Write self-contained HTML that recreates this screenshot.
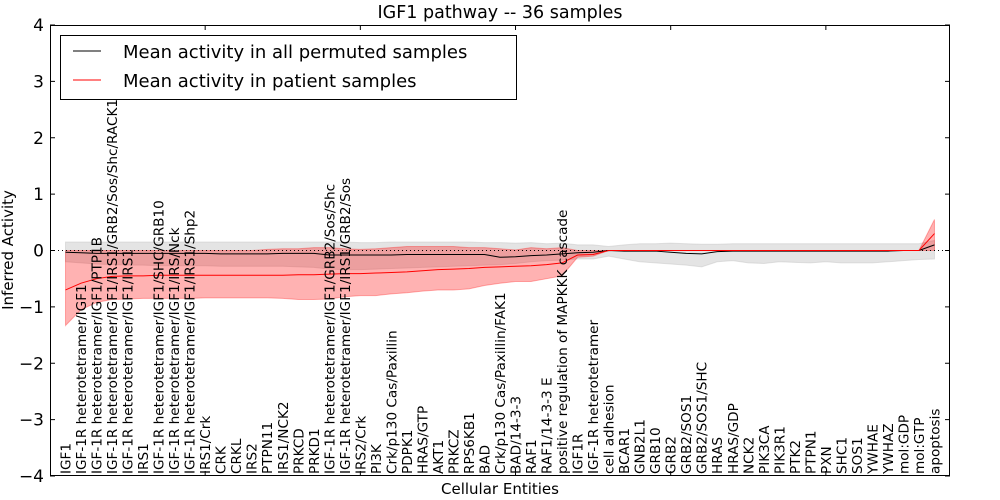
<!DOCTYPE html>
<html><head><meta charset="utf-8"><style>
html,body{margin:0;padding:0;background:#fff;}
svg{display:block;font-family:"DejaVu Sans","Liberation Sans",sans-serif;}
</style></head><body>
<svg id="chart" width="1000" height="500" viewBox="0 0 1000 500" xmlns="http://www.w3.org/2000/svg">
<text x="500" y="18" font-size="17.5" text-anchor="middle">IGF1 pathway -- 36 samples</text>
<text transform="translate(13,250) rotate(-90)" font-size="15" text-anchor="middle">Inferred Activity</text>
<text x="500" y="494" font-size="15" text-anchor="middle">Cellular Entities</text>
<g id="bands"></g><g id="lines"></g><g id="labels"></g><g id="axes"></g>
<g>
<rect x="60.5" y="35.5" width="456" height="64" fill="#fff" stroke="#000" stroke-width="1"/>
<line x1="73" y1="51" x2="101" y2="51" stroke="#000" stroke-width="1"/>
<text x="123" y="58" font-size="18">Mean activity in all permuted samples</text>
<line x1="73" y1="80" x2="101" y2="80" stroke="#f00" stroke-width="1"/>
<text x="123" y="87" font-size="18">Mean activity in patient samples</text>
</g>
</svg>
<script>
const categories = ["IGF1","IGF-1R heterotetramer/IGF1","IGF-1R heterotetramer/IGF1/PTP1B","IGF-1R heterotetramer/IGF1/IRS1/GRB2/Sos/Shc/RACK1","IGF-1R heterotetramer/IGF1/IRS1","IRS1","IGF-1R heterotetramer/IGF1/SHC/GRB10","IGF-1R heterotetramer/IGF1/IRS/Nck","IGF-1R heterotetramer/IGF1/IRS1/Shp2","IRS1/Crk","CRK","CRKL","IRS2","PTPN11","IRS1/NCK2","PRKCD","PRKD1","IGF-1R heterotetramer/IGF1/GRB2/Sos/Shc","IGF-1R heterotetramer/IGF1/IRS1/GRB2/Sos","IRS2/Crk","PI3K","Crk/p130 Cas/Paxillin","PDPK1","HRAS/GTP","AKT1","PRKCZ","RPS6KB1","BAD","Crk/p130 Cas/Paxillin/FAK1","BAD/14-3-3","RAF1","RAF1/14-3-3 E","positive regulation of MAPKKK cascade","IGF1R","IGF-1R heterotetramer","cell adhesion","BCAR1","GNB2L1","GRB10","GRB2","GRB2/SOS1","GRB2/SOS1/SHC","HRAS","HRAS/GDP","NCK2","PIK3CA","PIK3R1","PTK2","PTPN1","PXN","SHC1","SOS1","YWHAE","YWHAZ","mol:GDP","mol:GTP","apoptosis"];
const patientMean = [-0.70,-0.58,-0.50,-0.46,-0.45,-0.45,-0.44,-0.44,-0.44,-0.44,-0.44,-0.44,-0.44,-0.44,-0.44,-0.43,-0.43,-0.42,-0.41,-0.41,-0.40,-0.39,-0.38,-0.36,-0.34,-0.33,-0.32,-0.30,-0.29,-0.28,-0.27,-0.25,-0.22,-0.08,-0.07,0,0,0,0,0,0,0,0,0,0,0,0,0,0,0,0,0,0,0,0,0,0.30];
const patientLow = [-1.33,-1.05,-0.92,-0.87,-0.86,-0.85,-0.85,-0.85,-0.85,-0.84,-0.84,-0.84,-0.84,-0.84,-0.85,-0.87,-0.87,-0.86,-0.82,-0.80,-0.80,-0.77,-0.75,-0.72,-0.70,-0.70,-0.68,-0.62,-0.58,-0.55,-0.55,-0.50,-0.45,-0.12,-0.10,0,0,0,0,0,0,0,0,0,0,0,0,0,0,0,0,0,0,0,0,0,0];
const patientHigh = [0,0,0,0,0,0,0,0,0,0,0,0,0,0.02,0.03,0.03,0.05,0.05,0.03,0.02,0.03,0.05,0.07,0.07,0.07,0.07,0.05,0.05,0.03,0.01,0.05,0.03,0.05,0,0,0,0,0,0,0,0,0,0,0,0,0,0,0,0,0,0,0,0,0,0,0,0.55];
const permMean = [-0.03,-0.04,-0.05,-0.05,-0.05,-0.05,-0.05,-0.05,-0.05,-0.05,-0.06,-0.06,-0.06,-0.06,-0.05,-0.05,-0.05,-0.08,-0.08,-0.08,-0.08,-0.08,-0.07,-0.07,-0.07,-0.07,-0.07,-0.07,-0.12,-0.11,-0.09,-0.08,-0.06,-0.04,-0.03,0,-0.01,-0.01,-0.01,-0.03,-0.05,-0.06,-0.02,-0.01,-0.01,-0.01,-0.01,-0.01,-0.01,-0.01,-0.01,-0.01,-0.01,-0.01,0,0,0.10];
const permHigh = [0.15,0.15,0.15,0.15,0.15,0.15,0.15,0.15,0.15,0.15,0.15,0.15,0.15,0.15,0.15,0.15,0.15,0.15,0.15,0.14,0.14,0.15,0.15,0.15,0.15,0.15,0.15,0.14,0.14,0.13,0.14,0.12,0.13,0.10,0.10,0.07,0.10,0.12,0.12,0.13,0.12,0.11,0.11,0.12,0.12,0.12,0.12,0.12,0.12,0.12,0.12,0.12,0.12,0.12,0.12,0.12,0.18];
const permLow = [-0.20,-0.22,-0.24,-0.25,-0.26,-0.26,-0.27,-0.27,-0.27,-0.27,-0.28,-0.28,-0.28,-0.28,-0.28,-0.29,-0.30,-0.33,-0.34,-0.34,-0.33,-0.32,-0.31,-0.30,-0.29,-0.28,-0.27,-0.26,-0.25,-0.23,-0.20,-0.18,-0.17,-0.15,-0.15,-0.10,-0.15,-0.20,-0.22,-0.24,-0.26,-0.29,-0.20,-0.18,-0.22,-0.23,-0.20,-0.21,-0.22,-0.20,-0.22,-0.22,-0.22,-0.20,-0.18,-0.16,-0.15];
const yTicks = [-4,-3,-2,-1,0,1,2,3,4];
const xTicks = [10,20,30,40,50];

const L=50,R=950,T=25,B=476,XMIN=0,XMAX=58,YMIN=-4,YMAX=4;
const sx = v => L + (v-XMIN)/(XMAX-XMIN)*(R-L);
const sy = v => B - (v-YMIN)/(YMAX-YMIN)*(B-T);
const NS="http://www.w3.org/2000/svg";
function mk(tag, attrs, parent){const e=document.createElementNS(NS,tag);for(const k in attrs)e.setAttribute(k,attrs[k]);parent.appendChild(e);return e;}
const bands=document.getElementById('bands'),lines=document.getElementById('lines'),labels=document.getElementById('labels'),axes=document.getElementById('axes');
function bandPath(lo,hi){let d='';hi.forEach((v,i)=>{d+=(i?'L':'M')+sx(i+1)+','+sy(v);});for(let i=lo.length-1;i>=0;i--)d+='L'+sx(i+1)+','+sy(lo[i]);return d+'Z';}
function linePath(a){return a.map((v,i)=>(i?'L':'M')+sx(i+1)+','+sy(v)).join('');}
const gb=mk('path',{d:bandPath(permLow,permHigh),fill:'#bbbbbb','fill-opacity':'0.4',stroke:'#bbbbbb','stroke-opacity':'0.4'},bands);


const rb=mk('path',{d:bandPath(patientLow,patientHigh),fill:'#ff0000','fill-opacity':'0.3',stroke:'#ff0000','stroke-opacity':'0.3'},bands);


const zl=mk('line',{x1:L,x2:R,y1:sy(0),y2:sy(0),stroke:'#000','stroke-dasharray':'1,3','stroke-width':1},lines);


const bl=mk('path',{d:linePath(permMean),fill:'none',stroke:'#000','stroke-width':1},lines);


const rl=mk('path',{d:linePath(patientMean),fill:'none',stroke:'#f00','stroke-width':1},lines);


categories.forEach((c,i)=>{
  const x=sx(i+1)+5, y=B-2;
  const t=mk('text',{transform:`translate(${x},${y}) rotate(-90)`,'font-size':'13.6'},labels);
  t.textContent=c;
  
  
});
const frame=mk('rect',{x:L+0.5,y:T+0.5,width:R-L-1,height:B-T-1,fill:'none',stroke:'#000','stroke-width':1},axes);


yTicks.forEach(v=>{
  const y=sy(v);
  mk('line',{x1:L,x2:L+5,y1:y,y2:y,stroke:'#000'},axes);
  mk('line',{x1:R-5,x2:R,y1:y,y2:y,stroke:'#000'},axes);
  const t=mk('text',{x:L-6,y:y+6,'font-size':'17','text-anchor':'end'},axes);
  t.textContent=(v<0?'\u2212':'')+Math.abs(v);
  
  
});
xTicks.forEach(v=>{
  const x=sx(v);
  mk('line',{x1:x,x2:x,y1:T,y2:T+5,stroke:'#000'},axes);
  mk('line',{x1:x,x2:x,y1:B-5,y2:B,stroke:'#000'},axes);
});
</script>
</body></html>
